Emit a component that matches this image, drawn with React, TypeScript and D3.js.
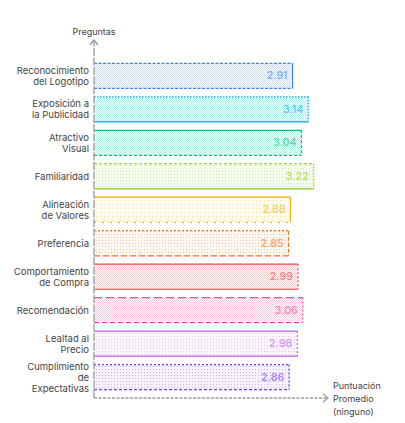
import React from "react";
import * as d3 from "d3";

const categories: string[] = [
  "Reconocimiento\ndel Logotipo",
  "Exposición a\nla Publicidad",
  "Atractivo\nVisual",
  "Familiaridad",
  "Alineación\nde Valores",
  "Preferencia",
  "Comportamiento\nde Compra",
  "Recomendación",
  "Lealtad al\nPrecio",
  "Cumplimiento\nde\nExpectativas",
];

const values: number[] = [2.91, 3.14, 3.04, 3.22, 2.88, 2.85, 2.99, 3.06, 2.98, 2.86];

const colors: string[] = [
  "#3b82f6",
  "#0ea5e9",
  "#10b981",
  "#84cc16",
  "#eab308",
  "#f97316",
  "#ef4444",
  "#ec4899",
  "#c05ce6",
  "#7c3aed",
];

const yTitle = "Preguntas";
const xTitle = ["Puntuación", "Promedio", "(ninguno)"];

// style config: [top, right, bottom] dasharrays and pattern spacing
const edgeDash: string[][] = [
  ["3,1.5", "none", "3,1.5"],
  ["1.5,1.5", "1.5,1.5", "none"],
  ["none", "3,2", "3,2"],
  ["3,2", "1.5,1.5", "none"],
  ["none", "none", "2,6"],
  ["2,2", "4,2", "6,3"],
  ["none", "2,2", "none"],
  ["8,4", "2,2", "5,3"],
  ["none", "2,2", "none"],
  ["2,2", "2,2", "3,2"],
];
const patternSpacing: number[] = [2, 2, 2, 3, 4, 3, 2, 2, 3, 3];

const W = 405;
const H = 423;

export default function App() {
  const x = d3.scaleLinear().domain([0, 3.4]).range([94, 326]);
  const y = d3
    .scaleBand<string>()
    .domain(categories)
    .range([55, 398])
    .paddingInner(0.25)
    .paddingOuter(0.25);

  const axisX = x(0);
  const axisY = 398;
  const axisColor = "#9a9a9a";
  const font = "Inter, 'Noto Sans', sans-serif";

  return (
    <svg
      width={W}
      height={H}
      style={{ position: "absolute", left: 0, top: 0, background: "#fff" }}
      fontFamily={font}
    >
      <defs>
        {colors.map((c, i) => {
          const s = patternSpacing[i];
          return (
            <pattern
              key={i}
              id={`pat${i}`}
              width={s}
              height={s}
              patternUnits="userSpaceOnUse"
            >
              {s === 2 ? (
                <>
                  <rect width={1} height={1} fill={c} fillOpacity={0.28} />
                  <rect x={1} y={1} width={1} height={1} fill={c} fillOpacity={0.28} />
                </>
              ) : (
                <>
                  <rect width={s} height={s} fill={c} fillOpacity={0.06} />
                  <rect width={1} height={1} fill={c} fillOpacity={0.35} />
                </>
              )}
            </pattern>
          );
        })}
      </defs>

      {categories.map((cat, i) => {
        const y0 = y(cat)!;
        const bh = y.bandwidth();
        const x0 = x(0);
        const x1 = x(values[i]);
        const c = colors[i];
        const [dt, dr, db] = edgeDash[i];
        const lines = cat.split("\n");
        const cy = y0 + bh / 2;
        const lh = 11;
        return (
          <g key={cat}>
            <rect x={x0} y={y0} width={x1 - x0} height={bh} fill={`url(#pat${i})`} />
            <line x1={x0} x2={x1} y1={y0} y2={y0} stroke={c} strokeWidth={1.2} strokeDasharray={dt} />
            <line x1={x1} x2={x1} y1={y0} y2={y0 + bh} stroke={c} strokeWidth={1.2} strokeDasharray={dr} />
            <line x1={x0} x2={x1} y1={y0 + bh} y2={y0 + bh} stroke={c} strokeWidth={1.2} strokeDasharray={db} />
            <text
              x={x1 - 5}
              y={cy}
              textAnchor="end"
              dominantBaseline="central"
              fontSize={10.5}
              fontWeight={600}
              fill={c}
              fillOpacity={0.6}
            >
              {values[i].toFixed(2)}
            </text>
            <text
              textAnchor="end"
              fontSize={9.5}
              fill="#444"
            >
              {lines.map((l, k) => (
                <tspan
                  key={k}
                  x={89}
                  y={cy + (k - (lines.length - 1) / 2) * lh}
                  dominantBaseline="central"
                >
                  {l}
                </tspan>
              ))}
            </text>
          </g>
        );
      })}

      {/* y axis */}
      <line x1={axisX} x2={axisX} y1={axisY} y2={40} stroke={axisColor} strokeWidth={1.3} strokeDasharray="8,1.5" />
      <path
        d={`M${axisX - 4},${45} L${axisX},${40} L${axisX + 4},${45}`}
        fill="none"
        stroke={axisColor}
        strokeWidth={1.3}
      />
      <text x={axisX} y={31} textAnchor="middle" dominantBaseline="central" fontSize={9} fill="#444">
        {yTitle}
      </text>

      {/* x axis */}
      <line x1={axisX} x2={328} y1={axisY} y2={axisY} stroke={axisColor} strokeWidth={1.3} strokeDasharray="3,1.5" />
      <path
        d={`M${323},${axisY - 4} L${328},${axisY} L${323},${axisY + 4}`}
        fill="none"
        stroke={axisColor}
        strokeWidth={1.3}
      />
      <text fontSize={9} fill="#444">
        {xTitle.map((t, k) => (
          <tspan key={k} x={333} y={385 + k * 13} dominantBaseline="central">
            {t}
          </tspan>
        ))}
      </text>
    </svg>
  );
}
